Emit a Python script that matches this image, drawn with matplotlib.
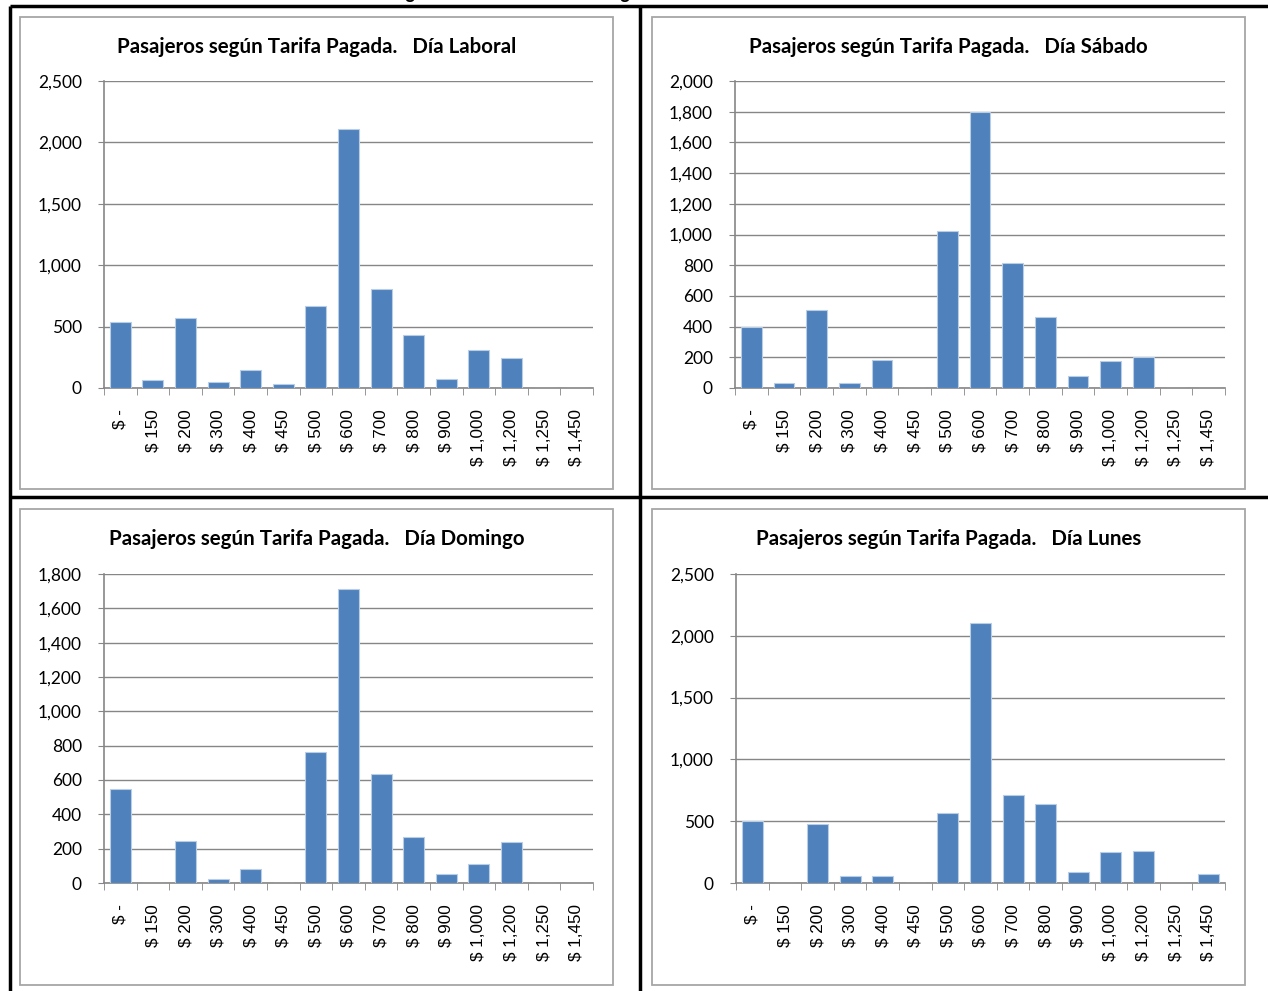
import numpy as np
import matplotlib.pyplot as plt
from matplotlib.patches import Rectangle
from matplotlib.lines import Line2D
from matplotlib.ticker import FuncFormatter, MultipleLocator

# tarifas (categorias del eje x)
tarifas = ['$ -', '$ 150', '$ 200', '$ 300', '$ 400', '$ 450', '$ 500', '$ 600',
           '$ 700', '$ 800', '$ 900', '$ 1,000', '$ 1,200', '$ 1,250', '$ 1,450']

# pasajeros por tarifa
laboral = [535, 65, 570, 50, 145, 30, 670, 2110, 810, 430, 70, 310, 245, 0, 0]
sabado = [400, 33, 510, 33, 180, 0, 1025, 1795, 815, 465, 80, 175, 205, 0, 0]
domingo = [545, 0, 245, 25, 80, 0, 765, 1715, 635, 270, 50, 110, 240, 0, 0]
lunes = [505, 0, 480, 55, 55, 0, 565, 2105, 710, 640, 90, 250, 260, 0, 75]

titulos = ['Pasajeros según Tarifa Pagada.   Día Laboral',
           'Pasajeros según Tarifa Pagada.   Día Sábado',
           'Pasajeros según Tarifa Pagada.   Día Domingo',
           'Pasajeros según Tarifa Pagada.   Día Lunes']
ymax = [2500, 2000, 1800, 2500]
ystep = [500, 200, 200, 500]

W, H = 1268, 991
fig = plt.figure(figsize=(W / 100, H / 100), dpi=100)

def caja(x0, y0, x1, y1):
    # rectangulo en pixeles -> coordenadas de figura
    return [x0 / W, 1 - y1 / H, (x1 - x0) / W, (y1 - y0) / H]

def fx(x):
    return x / W

def fy(y):
    return 1 - y / H

# titulo general (queda cortado en el borde superior)
fig.text(fx(478), fy(-1), 'Transacciones según Tarifa Cobrada del Rango Total',
         ha='center', va='baseline', fontsize=12.8, fontweight='bold',
         family='Lato', color='black')

# lineas de la tabla
lw_tabla = 2.5
for (xa, ya, xb, yb) in [(10, 6, W, 6), (10, 6, 10, H), (640, 6, 640, H),
                         (10, 497, W, 497)]:
    fig.add_artist(Line2D([fx(xa), fx(xb)], [fy(ya), fy(yb)], color='black',
                          lw=lw_tabla, solid_capstyle='butt'))

marcos = [(20, 17, 613, 489), (652, 17, 1245, 489),
          (20, 509, 613, 985), (652, 509, 1245, 985)]
areas = [(104, 81, 593, 388), (735, 81, 1225, 388),
         (104, 574, 593, 883), (736, 574, 1225, 883)]
datos = [laboral, sabado, domingo, lunes]

gris = '#868686'
azul = '#4F81BD'
miles = FuncFormatter(lambda v, p: f'{int(v):,}')

for i in range(4):
    x0, y0, x1, y1 = marcos[i]
    fig.add_artist(Rectangle((fx(x0), fy(y1)), fx(x1 - x0), (y1 - y0) / H,
                             transform=fig.transFigure, fill=False,
                             edgecolor='#A6A6A6', lw=1.3))
    fig.text(fx((x0 + x1) / 2), fy(y0 + 30), titulos[i], ha='center',
             va='center', fontsize=14.8, fontweight='bold', family='Lato')

    ax = fig.add_axes(caja(*areas[i]))
    pos = np.arange(len(tarifas))
    ax.bar(pos, datos[i], width=0.64, color=azul, edgecolor='#B9CDE5',
           lw=0.8, zorder=3)
    ax.set_xlim(-0.5, len(tarifas) - 0.5)
    ax.set_ylim(0, ymax[i])
    ax.yaxis.set_major_locator(MultipleLocator(ystep[i]))
    ax.yaxis.set_major_formatter(miles)
    ax.grid(axis='y', color=gris, lw=1, zorder=0)
    for s in ['top', 'right']:
        ax.spines[s].set_visible(False)
    for s in ['left', 'bottom']:
        ax.spines[s].set_color(gris)
        ax.spines[s].set_linewidth(1.2)
    ax.tick_params(axis='y', length=4, color=gris, labelsize=12.5, pad=12)
    for t in ax.get_yticklabels():
        t.set_family('Lato')
    ax.set_xticks(pos)
    ax.set_xticklabels(tarifas, rotation=90, family='Liberation Sans',
                       fontsize=12.3, va='top', ha='center')
    ax.tick_params(axis='x', which='major', length=0, pad=15)
    ax.set_xticks(np.arange(len(tarifas) + 1) - 0.5, minor=True)
    ax.tick_params(axis='x', which='minor', length=5, color=gris)

fig.savefig('out.png', dpi=100)
